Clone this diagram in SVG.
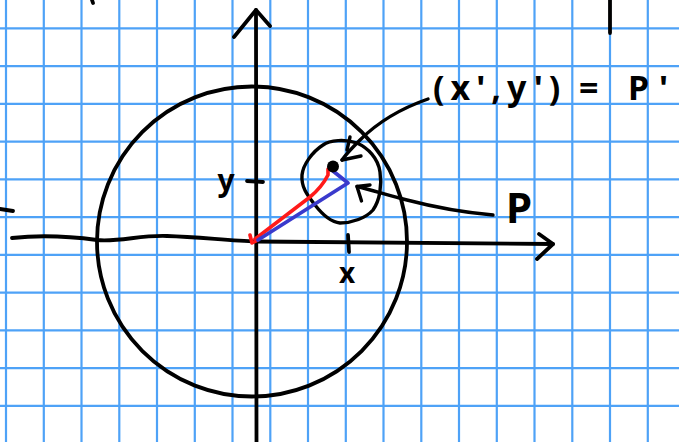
<svg xmlns="http://www.w3.org/2000/svg" width="679" height="442" viewBox="0 0 679 442">
<style>
.grid line{stroke:#4ea2f7;stroke-width:2.2}
.ink{fill:none;stroke:#000;stroke-width:3.8;stroke-linecap:round;stroke-linejoin:round}
.thin{stroke-width:3.4}
.lbl{font-family:"Noto Sans","DejaVu Sans",sans-serif;font-weight:bold;fill:#000}
</style>
<rect width="679" height="442" fill="#fff"/>
<g class="grid" id="grid">
<line x1="6" y1="0" x2="6" y2="442"/><line x1="43.8" y1="0" x2="43.8" y2="442"/><line x1="81.5" y1="0" x2="81.5" y2="442"/><line x1="119.3" y1="0" x2="119.3" y2="442"/><line x1="157" y1="0" x2="157" y2="442"/><line x1="194.8" y1="0" x2="194.8" y2="442"/><line x1="232.5" y1="0" x2="232.5" y2="442"/><line x1="270.3" y1="0" x2="270.3" y2="442"/><line x1="308" y1="0" x2="308" y2="442"/><line x1="345.8" y1="0" x2="345.8" y2="442"/><line x1="383.5" y1="0" x2="383.5" y2="442"/><line x1="421.3" y1="0" x2="421.3" y2="442"/><line x1="459" y1="0" x2="459" y2="442"/><line x1="496.8" y1="0" x2="496.8" y2="442"/><line x1="534.5" y1="0" x2="534.5" y2="442"/><line x1="572.3" y1="0" x2="572.3" y2="442"/><line x1="610" y1="0" x2="610" y2="442"/><line x1="647.8" y1="0" x2="647.8" y2="442"/>
<line x1="0" y1="28.3" x2="679" y2="28.3"/><line x1="0" y1="66.1" x2="679" y2="66.1"/><line x1="0" y1="103.8" x2="679" y2="103.8"/><line x1="0" y1="141.6" x2="679" y2="141.6"/><line x1="0" y1="179.3" x2="679" y2="179.3"/><line x1="0" y1="217.1" x2="679" y2="217.1"/><line x1="0" y1="254.8" x2="679" y2="254.8"/><line x1="0" y1="292.6" x2="679" y2="292.6"/><line x1="0" y1="330.3" x2="679" y2="330.3"/><line x1="0" y1="368.1" x2="679" y2="368.1"/><line x1="0" y1="405.9" x2="679" y2="405.9"/>
</g>
<g id="fragments" class="ink">
<path d="M92,0 L93,3"/>
<path d="M610,0 L610,33"/>
<path d="M0,209 L13,211"/>
</g>
<g id="big-circle"><circle class="ink" cx="252" cy="241.5" r="155"/></g>
<g id="small-circle"><path class="ink thin" d="M323,145 C330,140 345,139 357,143 C368,148 378,158 380,172 C382,185 380,200 373,210 C366,218 352,223 340,223 C330,222 322,214 315,205 C308,196 301,188 302,175 C303,165 312,152 323,145 Z"/></g>
<g id="axes" class="ink">
<path d="M256,10 L256.5,442"/>
<path d="M234,37 L256,10 L270,26"/>
<path d="M12,238 C30,236 60,235 97,240 C120,242 140,235 167,236 C200,237 230,241 256,241.5 L553,244"/>
<path d="M539,234 L553,244 L537,259"/>
<path d="M247,181 L263,182"/>
<path d="M348,235 L349,252"/>
</g>
<g id="connectors">
<path d="M255,239 L310,197 Q322,187 328,175 L328,169" fill="none" stroke="#ff1a1a" stroke-width="3.6" stroke-linecap="round" stroke-linejoin="round"/>
<path d="M250,235 L252,243 L258,240" fill="none" stroke="#ff1a1a" stroke-width="3.6" stroke-linecap="round" stroke-linejoin="round"/>
<path d="M258,240 L348,183 L333,171" fill="none" stroke="#3a3acc" stroke-width="3.8" stroke-linecap="round" stroke-linejoin="round"/>
<circle cx="333" cy="166.5" r="6" fill="#000"/>
<path class="ink thin" d="M428,99 C405,107 380,120 360,140 C352,148 346,154 342,160"/>
<path class="ink thin" d="M350,137 L347,150 M342,160 L361,156"/>
<path class="ink thin" d="M493,215 C470,213 445,210 407,200 C390,196 372,190 357,186.5"/>
<path class="ink thin" d="M370,185 L357,186.5 L361.5,201"/>
</g>
<g id="labels">
<text class="lbl" x="226" y="191" font-size="30" text-anchor="middle">y</text>
<text class="lbl" x="347" y="283" font-size="28" text-anchor="middle">x</text>
<text class="lbl" x="506" y="223" font-size="42">P</text>
<text class="lbl" x="433" y="100" font-size="34" letter-spacing="6">(x',y') <tspan x="579">=</tspan> <tspan x="628" letter-spacing="10">P'</tspan></text>
</g>
</svg>
